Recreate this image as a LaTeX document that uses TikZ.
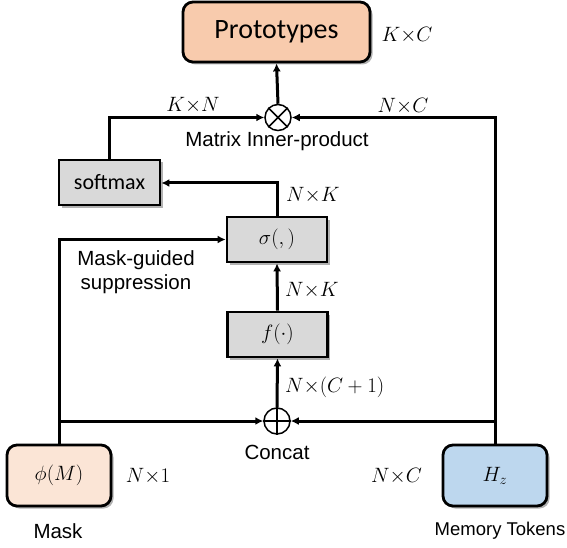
\documentclass[tikz,border=0pt]{standalone}
\usepackage{fontspec}
\setmainfont{Liberation Sans}
\newfontfamily\calib{Carlito}
\usetikzlibrary{arrows.meta,shadows}

\definecolor{protofill}{HTML}{F8CBAD}
\definecolor{maskfill}{HTML}{FBE5D6}
\definecolor{memfill}{HTML}{BDD7EE}
\definecolor{opfill}{HTML}{D9D9D9}

\tikzset{
  base/.style={draw=black, line width=2.8pt, inner sep=0pt,
    drop shadow={shadow xshift=2.5pt, shadow yshift=-2.5pt, fill=black, opacity=0.3}},
  roundbox/.style={base, rounded corners=10pt},
  opbox/.style={base, fill=opfill, minimum width=100pt, minimum height=45pt},
  joint/.style={circle, draw=black, line width=1.5pt, fill=white, minimum size=26pt, inner sep=0pt},
  conn/.style={line width=3pt, -{Latex[length=8pt,width=8pt]}},
  wire/.style={line width=3pt},
  dimlabel/.style={font=\fontsize{21}{25}\selectfont, inner sep=0pt},
  caption/.style={font=\fontsize{20.5}{24}\selectfont, inner sep=0pt, align=center},
  boxmath/.style={font=\fontsize{22}{26}\selectfont}
}

\begin{document}
\begin{tikzpicture}[x=1pt, y=-1pt]
  \useasboundingbox (0,0) rectangle (567,548);

  % main blocks
  \node[roundbox, fill=protofill, minimum width=187pt, minimum height=60pt,
        font=\calib\fontsize{28}{32}\selectfont] (proto) at (276.5,32) {Prototypes};
  \node[opbox, minimum width=101pt, font=\calib\fontsize{22}{26}\selectfont] (soft) at (109.5,182.5) {softmax};
  \node[opbox, boxmath] (sig) at (277,239.5) {$\sigma(,)$};
  \node[opbox, boxmath] (fb) at (277.5,334.5) {$f(\cdot)$};
  \node[roundbox, fill=maskfill, minimum width=104pt, minimum height=61pt, boxmath] (phi) at (59,475.5) {$\phi(M)$};
  \node[roundbox, fill=memfill, minimum width=104pt, minimum height=61pt, boxmath] (hz) at (495,475.5) {$H_z$};

  % inner-product and concatenation joints
  \node[joint] (ot) at (278,117.5) {};
  \draw[line width=1.5pt] (ot.north west) -- (ot.south east) (ot.north east) -- (ot.south west);
  \node[joint] (op) at (277,421) {};
  \draw[line width=1.5pt] (op.north) -- (op.south) (op.west) -- (op.east);

  % junction points on the feeder lines
  \coordinate (mj) at (phi.north |- op);
  \coordinate (hj) at (hz.north |- op);

  % connectors
  \draw[wire] (phi.north) -- (mj);
  \draw[conn] (mj) |- (sig.west);
  \draw[conn] (mj) -- (op.west);
  \draw[wire] (hz.north) -- (hj);
  \draw[conn] (hj) |- (ot.east);
  \draw[conn] (hj) -- (op.east);
  \draw[conn] (op.north) -- (fb.south);
  \draw[conn] (fb.north) -- (sig.south);
  \draw[conn] (sig.north) |- (soft.east |- 0,183);
  \draw[conn] (soft.north) |- (ot.west);
  \draw[conn] (ot.north) -- (proto.south);

  % dimension labels
  \node[dimlabel] (l1) at (407,35) {$K{\times}C$};
  \node[dimlabel] (l2) at (193,105) {$K{\times}N$};
  \node[dimlabel] (l3) at (403,106) {$N{\times}C$};
  \node[dimlabel, anchor=west] (l4) at (286,195) {$N{\times}K$};
  \node[dimlabel, anchor=west] (l5) at (285,290) {$N{\times}K$};
  \node[dimlabel, anchor=west] (l6) at (285,387) {$N{\times}(C+1)$};
  \node[dimlabel] (l7) at (148,476) {$N{\times}1$};
  \node[dimlabel, anchor=east] (l8) at (422,476) {$N{\times}C$};

  % captions
  \node[caption] (c1) at (277,141) {Matrix Inner-product};
  \node[caption] (c2) at (136,272) {Mask-guided\\suppression};
  \node[caption] (c3) at (277,452) {Concat};
  \node[caption] (c4) at (58,531) {Mask};
  \node[caption, font=\fontsize{18.5}{22}\selectfont] (c5) at (500,531) {Memory Tokens};
\end{tikzpicture}
\end{document}
